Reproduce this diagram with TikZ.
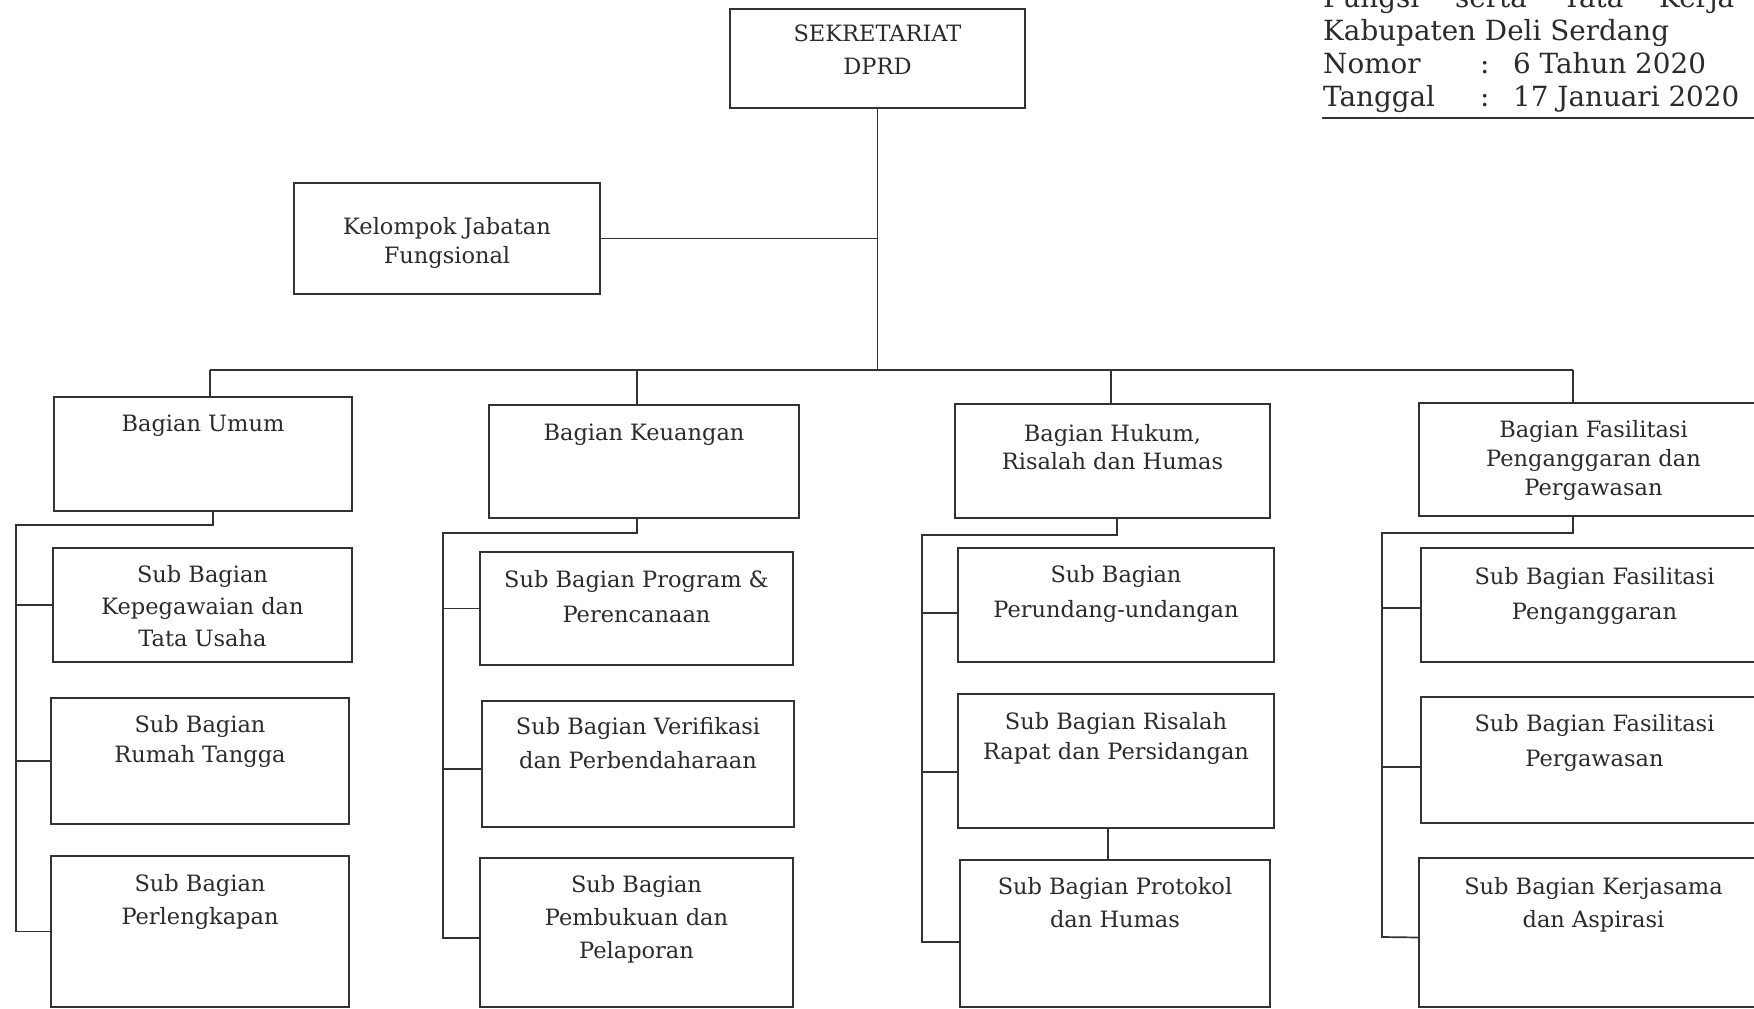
\documentclass[tikz,border=0pt]{standalone}
\usepackage{fontspec}
\setmainfont{DejaVu Serif}
\definecolor{ink}{HTML}{333333}
\definecolor{txtc}{HTML}{2B2B2B}
\tikzset{
  boxst/.style={draw=ink, line width=2.2pt, inner sep=0pt, outer sep=0pt, rectangle},
  txtst/.style={text=txtc, font=\fontsize{22.5}{33}\selectfont, align=center, inner sep=0pt},
  hdrst/.style={text=txtc, font=\fontsize{27.8}{32}\selectfont, inner sep=0pt, anchor=base west},
  conn/.style={draw=ink, line width=1.7pt},
}
\newcommand\obox[7]{%
  \node[boxst, minimum width={(#4-#2)*1pt}, minimum height={(#5-#3)*1pt}] (#1) at ({(#2+#4)/2},{(#3+#5)/2}) {};
  \node[txtst, anchor=north] (#1t) at ([yshift=-#6pt]#1.north) {#7};
}
\begin{document}
\begin{tikzpicture}[x=1pt,y=-1pt]
\useasboundingbox (0,0) rectangle (1754,1009);
\clip (0,0) rectangle (1754,1009);
\fill[white] (0,0) rectangle (1754,1009);

% header
\node[hdrst] (h0) at (1323,7) {\makebox[411pt][s]{Fungsi serta Tata Kerja}};
\node[hdrst] (h1) at (1323,40) {Kabupaten Deli Serdang};
\node[hdrst] (h2) at (1323,73) {Nomor};
\node[hdrst] (h2c) at (1480,73) {:};
\node[hdrst] (h2v) at (1513,73) {6 Tahun 2020};
\node[hdrst] (h3) at (1323,106) {Tanggal};
\node[hdrst] (h3c) at (1480,106) {:};
\node[hdrst] (h3v) at (1513,106) {17 Januari 2020};
\draw[draw=ink, line width=2pt] (1322,118) -- (1754,118);

% boxes
\obox{sek}{730}{9}{1025}{108}{16}{SEKRETARIAT\\DPRD}
\obox{kel}{294}{183}{600}{294}{34}{Kelompok Jabatan\\[-4pt]Fungsional}

\obox{umum}{54}{397}{352}{511}{18}{Bagian Umum}
\obox{keu}{489}{405}{799}{518}{19}{Bagian Keuangan}
\obox{huk}{955}{404}{1270}{518}{20}{Bagian Hukum,\\[-5pt]Risalah dan Humas}
\obox{fas}{1419}{403}{1768}{516}{17}{Bagian Fasilitasi\\[-4pt]Penganggaran dan\\[-4pt]Pergawasan}

\obox{kep}{53}{548}{352}{662}{17}{Sub Bagian\\[-1pt]Kepegawaian dan\\[-1pt]Tata Usaha}
\obox{rt}{51}{698}{349}{824}{17}{Sub Bagian\\[-3pt]Rumah Tangga}
\obox{per}{51}{856}{349}{1007}{18}{Sub Bagian\\Perlengkapan}

\obox{prog}{480}{552}{793}{665}{18}{Sub Bagian Program \&\\[2pt]Perencanaan}
\obox{ver}{482}{701}{794}{827}{16}{Sub Bagian Verifikasi\\[1pt]dan Perbendaharaan}
\obox{pem}{480}{858}{793}{1007}{17}{Sub Bagian\\Pembukuan dan\\Pelaporan}

\obox{pru}{958}{548}{1274}{662}{17}{Sub Bagian\\[2pt]Perundang-undangan}
\obox{ris}{958}{694}{1274}{828}{18}{Sub Bagian Risalah\\[-3pt]Rapat dan Persidangan}
\obox{pro}{960}{860}{1270}{1007}{17}{Sub Bagian Protokol\\dan Humas}

\obox{fpa}{1421}{548}{1768}{662}{19}{Sub Bagian Fasilitasi\\[2pt]Penganggaran}
\obox{fpe}{1421}{697}{1768}{823}{17}{Sub Bagian Fasilitasi\\[2pt]Pergawasan}
\obox{ker}{1419}{858}{1768}{1007}{19}{Sub Bagian Kerjasama\\dan Aspirasi}

% top connectors
\coordinate (busL) at (210,370);
\coordinate (busR) at (1573,370);
\coordinate (dK) at (637,370);
\coordinate (dH) at (1111,370);
\draw[conn] (sek.south) -- (sek.south |- busL);
\draw[conn] (kel.east) -- (kel.east -| sek.south);
\draw[conn] (busL) -- (busR);
\draw[conn] (busL) -- (busL |- umum.north);
\draw[conn] (dK) -- (dK |- keu.north);
\draw[conn] (dH) -- (dH |- huk.north);
\draw[conn] (busR) -- (busR |- fas.north);

% column 1
\coordinate (j1) at (213,525);
\coordinate (s1) at (16,525);
\draw[conn] (j1 |- umum.south) -- (j1) -- (s1) -- (s1 |- per.west) -- (per.west);
\draw[conn] (s1 |- kep.west) -- (kep.west);
\draw[conn] (s1 |- rt.west) -- (rt.west);

% column 2
\coordinate (j2) at (637,533);
\coordinate (s2) at (443,533);
\draw[conn] (j2 |- keu.south) -- (j2) -- (s2) -- (s2 |- 0,938) -- ([yshift=-5.5pt]pem.west);
\draw[conn] (s2 |- prog.west) -- (prog.west);
\draw[conn] ([yshift=-5pt]s2 |- ver.west) -- ([yshift=-5pt]ver.west);

% column 3
\coordinate (j3) at (1117,535);
\coordinate (s3) at (922,535);
\draw[conn] (j3 |- huk.south) -- (j3) -- (s3) -- (s3 |- 0,942) -- ([yshift=-8.5pt]pro.west);
\draw[conn] ([yshift=-8pt]s3 |- pru.west) -- ([yshift=-8pt]pru.west);
\draw[conn] ([yshift=-11pt]s3 |- ris.west) -- ([yshift=-11pt]ris.west);
\draw[conn] ([xshift=-8pt]ris.south) -- ([xshift=-8pt]ris.south |- pro.north);

% column 4
\coordinate (j4) at (1573,533);
\coordinate (s4) at (1382,533);
\draw[conn] (j4 |- fas.south) -- (j4) -- (s4) -- (s4 |- 0,937) -- ([yshift=-5pt]ker.west);
\draw[conn] ([yshift=-3pt]s4 |- fpa.west) -- ([yshift=-3pt]fpa.west);
\draw[conn] ([yshift=-7pt]s4 |- fpe.west) -- ([yshift=-7pt]fpe.west);
\end{tikzpicture}
\end{document}
